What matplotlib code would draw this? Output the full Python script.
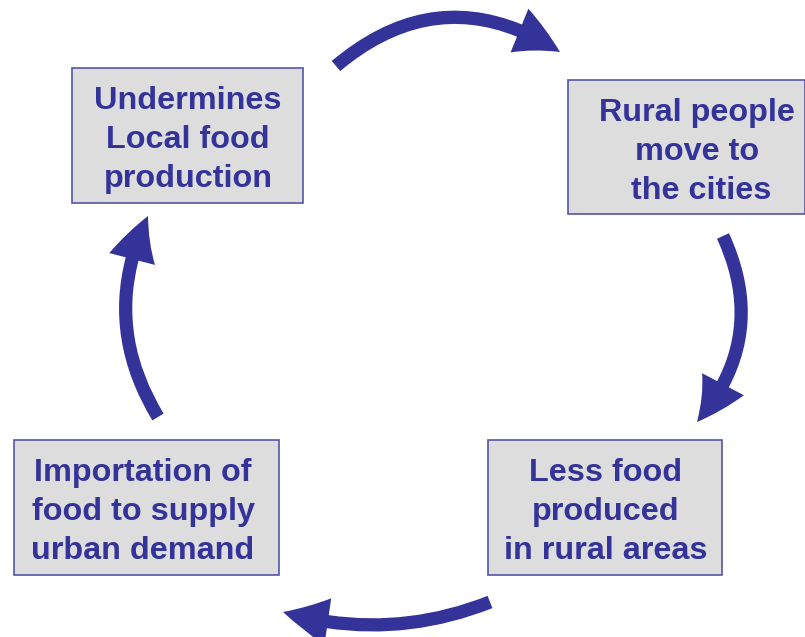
import matplotlib.pyplot as plt
from matplotlib.patches import Rectangle, FancyArrowPatch

plt.rcParams['font.family'] = ['Liberation Sans', 'DejaVu Sans']

# texte des cases, dans l'ordre du cycle
labels = [
    'Undermines\nLocal food\nproduction',
    'Rural people\nmove to\n the cities',
    'Less food\nproduced\nin rural areas',
    'Importation of\nfood to supply\nurban demand',
]

# cases (x, y, largeur, hauteur) en pixels, y vers le bas
boxes = [(72, 68, 231, 135), (568, 80, 237, 134), (488, 440, 234, 135), (14, 440, 265, 135)]
text_pos = [(188, 140), (697, 152), (606, 512), (143, 512)]

# flèches : départ, arrivée, courbure
arrows = [((336, 66), (560, 52), -0.37),
          ((723, 236), (697, 422), -0.32),
          ((490, 602), (283, 612), -0.17),
          ((158, 417), (148, 216), -0.27)]

blue = '#333399'

fig = plt.figure(figsize=(8.05, 6.37), dpi=100)
ax = fig.add_axes([0, 0, 1, 1])
ax.set_xlim(0, 805)
ax.set_ylim(637, 0)
ax.axis('off')

for (x, y, w, h), txt, (tx, ty) in zip(boxes, labels, text_pos):
    ax.add_patch(Rectangle((x, y), w, h, facecolor='#DDDDDD', edgecolor='#5555A8', linewidth=1.2))
    ax.text(tx, ty, txt, ha='center', va='center', fontsize=23.3, fontweight='bold',
            color=blue, linespacing=1.38, multialignment='center')

for start, end, rad in arrows:
    arr = FancyArrowPatch(start, end, connectionstyle=f'arc3,rad={rad}',
                          arrowstyle='simple,head_width=34,head_length=33,tail_width=9.5',
                          mutation_scale=1, color=blue, shrinkA=0, shrinkB=0, linewidth=0)
    ax.add_patch(arr)

fig.savefig('out.png', dpi=100)
